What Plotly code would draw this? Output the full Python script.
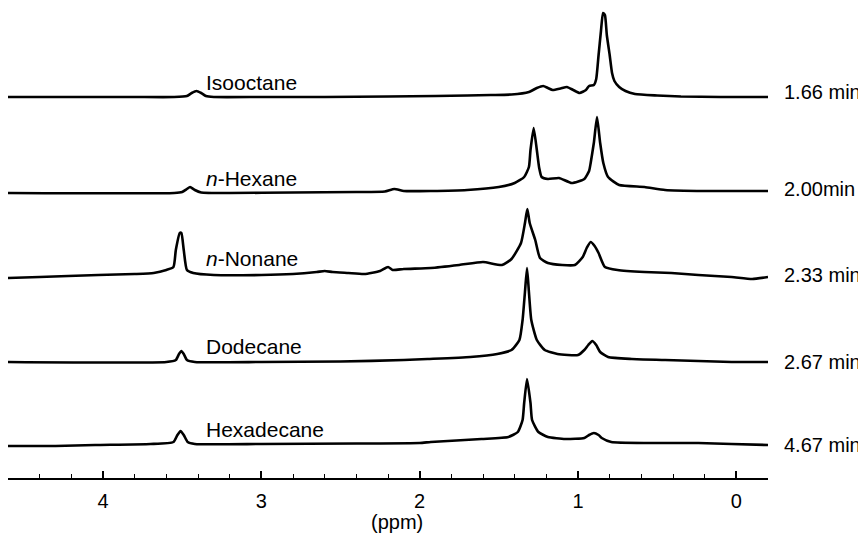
import plotly.graph_objects as go

# spectra labels and retention times
names = ["Isooctane", "<i>n</i>-Hexane", "<i>n</i>-Nonane", "Dodecane", "Hexadecane"]
times = ["1.66 min", "2.00min", "2.33 min", "2.67 min", "4.67 min"]
offsets = [381, 285, 200, 116, 33]

iso_ppm = [4.6, 4.2, 3.8, 3.55, 3.47, 3.44, 3.41, 3.38, 3.35, 3.3, 3.0, 2.6, 2.2, 1.9, 1.7,
           1.55, 1.42, 1.31, 1.26, 1.22, 1.19, 1.16, 1.11, 1.07, 1.03, 0.99, 0.95, 0.93, 0.90,
           0.885, 0.87, 0.855, 0.842, 0.83, 0.818, 0.80, 0.785, 0.77, 0.74, 0.70, 0.64, 0.5,
           0.35, 0.1, -0.2]
iso_int = [0, 0, 0, 0, 1, 4, 6, 4, 1, 0, 0, 0, 0.5, 1, 1.5,
           2, 2.5, 5, 9, 11, 9, 7, 8.5, 10, 7, 4, 7, 11, 12,
           18, 42, 66, 84, 82, 62, 42, 24, 16, 10, 6, 3, 1.5,
           0.5, 0, 0]

hex_ppm = [4.6, 3.55, 3.5, 3.47, 3.45, 3.42, 3.38, 3.2, 2.8, 2.4, 2.22, 2.16, 2.1, 1.93, 1.7,
           1.5, 1.4, 1.34, 1.31, 1.30, 1.28, 1.26, 1.245, 1.23, 1.19, 1.12, 1.04, 0.96, 0.93,
           0.92, 0.90, 0.88, 0.86, 0.84, 0.81, 0.74, 0.58, 0.45, 0.2, -0.2]
hex_int = [0, 0, 1, 4, 6, 3, 0.5, 0, 0.5, 1, 1.5, 4, 2, 2, 3,
           6, 10, 16, 26, 43, 65, 43, 25, 16, 14, 15, 10, 14, 22,
           30, 50, 76, 50, 30, 16, 8, 6, 3, 2, 2]

non_ppm = [4.6, 4.4, 4.22, 4.03, 3.8, 3.68, 3.6, 3.555, 3.54, 3.515, 3.505, 3.49, 3.47, 3.43,
           3.3, 3.0, 2.8, 2.65, 2.6, 2.55, 2.45, 2.35, 2.25, 2.2, 2.17, 2.1, 1.93, 1.75, 1.6,
           1.48, 1.42, 1.36, 1.335, 1.32, 1.305, 1.27, 1.24, 1.19, 1.1, 1.02, 0.97, 0.945,
           0.92, 0.895, 0.87, 0.83, 0.75, 0.58, 0.41, 0.24, 0.03, -0.1, -0.2]
non_int = [0, 1, 2, 3, 4, 5, 8, 11, 28, 45, 45, 28, 8, 5,
           3, 3, 4, 6, 7, 6, 5, 4, 7, 11, 8, 9, 10, 13, 16,
           13, 19, 35, 55, 69, 55, 38, 20, 15, 13, 13, 21, 30,
           36, 32, 25, 11, 8, 6, 5, 3, 1, -1, 1]

dod_ppm = [4.6, 3.6, 3.54, 3.52, 3.505, 3.49, 3.47, 3.42, 3.0, 2.5, 2.1, 1.95, 1.68, 1.51,
           1.42, 1.37, 1.35, 1.335, 1.322, 1.31, 1.295, 1.26, 1.21, 1.13, 1.0, 0.96, 0.935,
           0.91, 0.885, 0.86, 0.81, 0.66, 0.45, 0.03, -0.2]
dod_int = [0, 0, 2, 8, 11, 8, 2, 0, 0, 0.5, 2, 3, 5, 8,
           12, 22, 42, 70, 94, 70, 42, 22, 12, 8, 7, 12, 17,
           21, 17, 10, 5, 3, 2, 0, 0]

hxd_ppm = [4.6, 4.3, 4.05, 3.7, 3.555, 3.53, 3.51, 3.49, 3.465, 3.42, 3.0, 2.4, 2.0, 1.93,
           1.61, 1.44, 1.38, 1.35, 1.34, 1.322, 1.30, 1.29, 1.25, 1.19, 1.08, 0.96, 0.93,
           0.90, 0.87, 0.85, 0.79, 0.55, 0.24, 0.03, -0.2]
hxd_int = [-1, -1, 0, 1, 3, 10, 14, 10, 3, 1, 1, 1.5, 2, 3,
           6, 8, 13, 25, 42, 66, 42, 25, 13, 8, 6, 7, 10,
           12, 10, 7, 3, 2, 2, 1, 0]

spectra = [(iso_ppm, iso_int), (hex_ppm, hex_int), (non_ppm, non_int),
           (dod_ppm, dod_int), (hxd_ppm, hxd_int)]

font = "Liberation Sans, Arial, sans-serif"
fig = go.Figure()

for (x, y), off in zip(spectra, offsets):
    fig.add_trace(go.Scatter(
        x=x, y=[v + off for v in y],
        mode="lines",
        line=dict(color="black", width=2.6, shape="spline", smoothing=0.5),
        showlegend=False, hoverinfo="skip"
    ))

name_lift = [15, 15, 20, 16, 16]
time_lift = [5, 4, 3, 0, 0]
for name, t, off, nl, tl in zip(names, times, offsets, name_lift, time_lift):
    fig.add_annotation(x=3.365, y=off + nl, text=name, showarrow=False,
                       xanchor="left", yanchor="middle",
                       font=dict(family=font, size=21, color="black"))
    fig.add_annotation(x=1.018, xref="paper", y=off + tl, text=t, showarrow=False,
                       xanchor="left", yanchor="middle",
                       font=dict(family=font, size=20, color="black"))

fig.add_annotation(x=0.512, xref="paper", y=-0.093, yref="paper", text="(ppm)",
                   showarrow=False, xanchor="center", yanchor="middle",
                   font=dict(family=font, size=20, color="black"))

fig.update_xaxes(
    range=[4.6, -0.2],
    tickvals=[4, 3, 2, 1, 0],
    ticks="inside", ticklen=7, tickwidth=1.5, tickcolor="black",
    minor=dict(dtick=0.2, tick0=0, ticks="inside", ticklen=4, tickwidth=1.2, tickcolor="black"),
    showline=True, linecolor="black", linewidth=1.8,
    showgrid=False, zeroline=False,
    tickfont=dict(family=font, size=20, color="black"),
    ticklabelstandoff=4
)
fig.update_yaxes(range=[0, 470], visible=False)

# page body adds an 8px margin, so the figure is drawn 8px smaller
fig.update_layout(
    width=858, height=527,
    margin=dict(l=0, r=98, t=0, b=57),
    paper_bgcolor="white", plot_bgcolor="white",
    showlegend=False
)

fig.write_html("out.html")
